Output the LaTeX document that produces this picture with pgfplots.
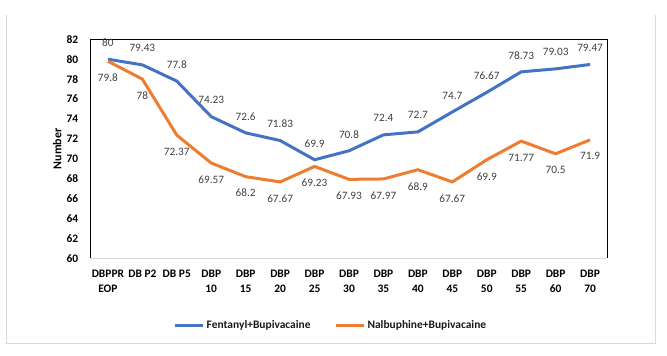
\documentclass[border=0pt]{standalone}
\usepackage{pgfplots}
\pgfplotsset{compat=1.18}
\usepackage{pgfplotstable}
\usepackage{fontspec}
\setmainfont{Carlito}
\definecolor{fblue}{HTML}{4472C4}
\definecolor{norange}{HTML}{ED7D31}
\definecolor{lblgray}{HTML}{404040}
\definecolor{framegray}{HTML}{D9D9D9}
\pgfplotstableread{
x y l
0 80 80
1 79.43 79.43
2 77.8 77.8
3 74.23 74.23
4 72.6 72.6
5 71.83 71.83
6 69.9 69.9
7 70.8 70.8
8 72.4 72.4
9 72.7 72.7
10 74.7 74.7
11 76.67 76.67
12 78.73 78.73
13 79.03 79.03
14 79.47 79.47
}\fent
\pgfplotstableread{
x y l
0 79.8 79.8
1 78 78
2 72.37 72.37
3 69.57 69.57
4 68.2 68.2
5 67.67 67.67
6 69.23 69.23
7 67.93 67.93
8 67.97 67.97
9 68.9 68.9
10 67.67 67.67
11 69.9 69.9
12 71.77 71.77
13 70.5 70.5
14 71.9 71.9
}\nalb
\begin{document}
\begin{tikzpicture}
\useasboundingbox (0,0) rectangle (667bp,356bp);
\draw[framegray, line width=0.8bp] (6bp,341bp) -- (6bp,13bp) -- (655.7bp,13bp) -- (655.7bp,341bp);
\begin{axis}[
  at={(90.7bp,97.7bp)}, anchor=south west,
  scale only axis, width=516.6bp, height=219bp,
  xmin=-0.5, xmax=14.5, ymin=60, ymax=82,
  xtick={0,...,14},
  xticklabels={{DBPPR\\EOP},{DB P2},{DB P5},{DBP\\10},{DBP\\15},{DBP\\20},{DBP\\25},{DBP\\30},{DBP\\35},{DBP\\40},{DBP\\45},{DBP\\50},{DBP\\55},{DBP\\60},{DBP\\70}},
  ytick={60,62,...,82},
  major tick length=0pt,
  axis line style={draw=none},
  /pgf/number format/assume math mode=true,
  tick label style={font=\bfseries\fontsize{11.5}{15}\selectfont, text=black},
  xticklabel style={align=center, anchor=north, yshift=-8.5bp},
  yticklabel style={xshift=-9bp},
  ylabel={Number},
  ylabel style={font=\bfseries\fontsize{12}{14}\selectfont, at={(axis description cs:-0.065,0.5)}, anchor=center},
  clip=false,
  point meta=explicit symbolic,
  nodes near coords,
  nodes near coords style={font=\fontsize{11.3}{13}\selectfont, text=lblgray, anchor=center},
  legend style={at={(axis description cs:0.465,-0.305)}, anchor=center, draw=none, fill=none,
    font=\bfseries\fontsize{11.5}{13}\selectfont, text=black!90,
    /tikz/every even column/.append style={column sep=22bp}},
  legend columns=2,
  legend image code/.code={\draw[#1] (0bp,0bp) -- (28bp,0bp);},
]
\draw[framegray, line width=0.8bp] (rel axis cs:0,0) -- (rel axis cs:1,0);
\draw[black, line width=0.8bp] (rel axis cs:0,0) -- (rel axis cs:0,1) -- (rel axis cs:1,1) -- (rel axis cs:1,0);
\addplot[fblue, line width=3bp, nodes near coords style={yshift=16.5bp}] table[x=x, y=y, meta=l] {\fent};
\addlegendentry{Fentanyl+Bupivacaine}
\addplot[norange, line width=3bp, nodes near coords style={yshift=-16.5bp}] table[x=x, y=y, meta=l] {\nalb};
\addlegendentry{Nalbuphine+Bupivacaine}
\end{axis}
\end{tikzpicture}
\end{document}
